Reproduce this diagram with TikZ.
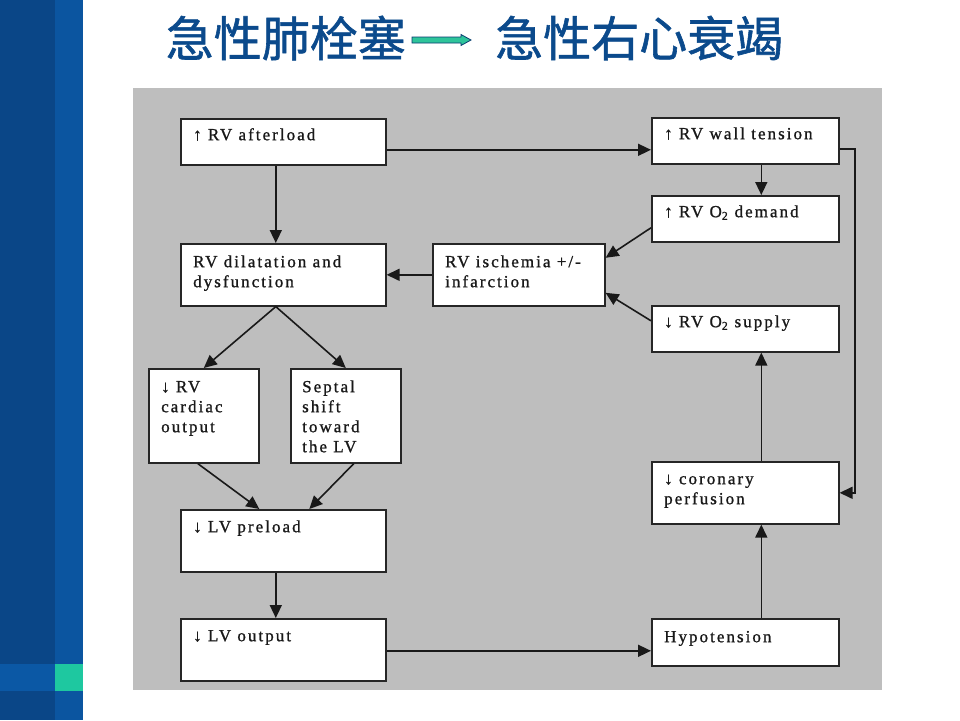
\documentclass[tikz,border=0pt]{standalone}
\usepackage{fontspec}
\setmainfont{Liberation Serif}[LetterSpace=12, FakeBold=1]
\newfontfamily\cjk{Noto Sans CJK SC}[FakeBold=1.2]
\usetikzlibrary{arrows.meta,calc}
\definecolor{bluedark}{HTML}{0A4687}
\definecolor{bluelight}{HTML}{0B55A0}
\definecolor{bandblue}{HTML}{0B58A5}
\definecolor{bandgreen}{HTML}{1EC8A0}
\definecolor{titleblue}{HTML}{0B4A8C}
\definecolor{panelgray}{HTML}{BEBEBE}
\definecolor{arrowgreen}{HTML}{2EC49A}
\begin{document}
\begin{tikzpicture}[x=1pt,y=-1pt,
  box/.style={draw=black!85, fill=white, line width=1.6pt, inner sep=0pt, anchor=north west},
  lbl/.style={anchor=north west, inner sep=0pt, align=left, text=black!90,
    font=\fontsize{17}{20}\selectfont},
  arr/.style={draw=black!90, line width=1.6pt, -{Triangle[length=13pt,width=12pt]}},
  ttl/.style={inner sep=0pt, text=titleblue, font=\cjk\fontsize{48}{50}\selectfont}]
\useasboundingbox (0,0) rectangle (960,720);
\fill[white] (0,0) rectangle (960,720);
% left bar
\fill[bluedark] (0,0) rectangle (55,720);
\fill[bluelight] (55,0) rectangle (83,720);
\fill[bandblue] (0,664) rectangle (55,691);
\fill[bandgreen] (55,664) rectangle (83,691);
% title
\node[ttl, anchor=east] (t1) at (406,38) {急性肺栓塞};
\node[ttl, anchor=west] (t2) at (495,38) {急性右心衰竭};
\draw[draw=titleblue!80!black, fill=arrowgreen, line width=0.8pt]
  (412,37) -- (461,37) -- (461,34.5) -- (471,40) -- (461,45.5) -- (461,43) -- (412,43) -- cycle;
% panel
\fill[panelgray] (133,88) rectangle (882,690);
% boxes
\node[box, minimum width=205pt, minimum height=46pt] (aft) at (180,118) {};
\node[box, minimum width=187pt, minimum height=46pt] (wall) at (651,117) {};
\node[box, minimum width=187pt, minimum height=46pt] (dem) at (651,195) {};
\node[box, minimum width=205pt, minimum height=62pt] (dil) at (180,243) {};
\node[box, minimum width=172pt, minimum height=62pt] (isc) at (432,243) {};
\node[box, minimum width=187pt, minimum height=46pt] (sup) at (651,305) {};
\node[box, minimum width=110pt, minimum height=94pt] (rvco) at (148,368) {};
\node[box, minimum width=110pt, minimum height=94pt] (sep) at (290,368) {};
\node[box, minimum width=187pt, minimum height=62pt] (cor) at (651,461) {};
\node[box, minimum width=205pt, minimum height=62pt] (pre) at (180,509) {};
\node[box, minimum width=205pt, minimum height=62pt] (lvo) at (180,618) {};
\node[box, minimum width=187pt, minimum height=47pt] (hyp) at (651,618) {};
% labels (first baseline = top + 14)
\node[lbl] (laft) at ($(aft.north west)+(13,8)$) {\strut↑ RV afterload};
\node[lbl] (lwall) at ($(wall.north west)+(13,8)$) {\strut↑ RV wall tension};
\node[lbl] (ldem) at ($(dem.north west)+(13,8)$) {\strut↑ RV O\textsubscript{2} demand};
\node[lbl] (ldil) at ($(dil.north west)+(13,10)$) {\strut RV dilatation and\\dysfunction};
\node[lbl] (lisc) at ($(isc.north west)+(13,10)$) {\strut RV ischemia +/-\\infarction};
\node[lbl] (lsup) at ($(sup.north west)+(13,8)$) {\strut↓ RV O\textsubscript{2} supply};
\node[lbl] (lrvco) at ($(rvco.north west)+(13,10)$) {\strut↓ RV\\cardiac\\output};
\node[lbl] (lsep) at ($(sep.north west)+(12,10)$) {\strut Septal\\shift\\toward\\the LV};
\node[lbl] (lcor) at ($(cor.north west)+(13,9)$) {\strut↓ coronary\\perfusion};
\node[lbl] (lpre) at ($(pre.north west)+(13,9)$) {\strut↓ LV preload};
\node[lbl] (llvo) at ($(lvo.north west)+(13,9)$) {\strut↓ LV output};
\node[lbl] (lhyp) at ($(hyp.north west)+(13,10)$) {\strut Hypotension};
% connectors
\coordinate (rt) at (855,148);
\draw[arr] ([yshift=-8pt]aft.east) -- ([yshift=-8pt]aft.east -| wall.west);
\draw[arr] ([yshift=-8pt]wall.east) -- ([yshift=-8pt]wall.east -| rt) -- (rt |- cor.east) -- (cor.east);
\draw[arr] ([xshift=16pt]wall.south) -- ([xshift=16pt]dem.north);
\draw[arr] ([yshift=-9pt]dem.west) -- ([yshift=17pt]isc.east);
\draw[arr] ([yshift=8pt]sup.west) -- ([yshift=-18pt]isc.east);
\draw[arr] (isc.west) -- (dil.east);
\draw[arr] ([xshift=16pt]cor.north) -- ([xshift=16pt]sup.south);
\draw[arr] ([xshift=16pt]hyp.north) -- ([xshift=16pt]cor.south);
\draw[arr] ([yshift=-1pt]lvo.east) -- ([yshift=-1pt]lvo.east -| hyp.west);
\draw[arr] ([xshift=-7.5pt]aft.south) -- ([xshift=-7.5pt]dil.north);
\draw[arr] ([xshift=-7.5pt]dil.south) -- (rvco.north);
\draw[arr] ([xshift=-7.5pt]dil.south) -- (sep.north);
\draw[arr] ([xshift=-6pt]rvco.south) -- ([xshift=-24pt]pre.north);
\draw[arr] ([xshift=8pt]sep.south) -- ([xshift=26pt]pre.north);
\draw[arr] ([xshift=-7.5pt]pre.south) -- ([xshift=-7.5pt]lvo.north);
\end{tikzpicture}
\end{document}
